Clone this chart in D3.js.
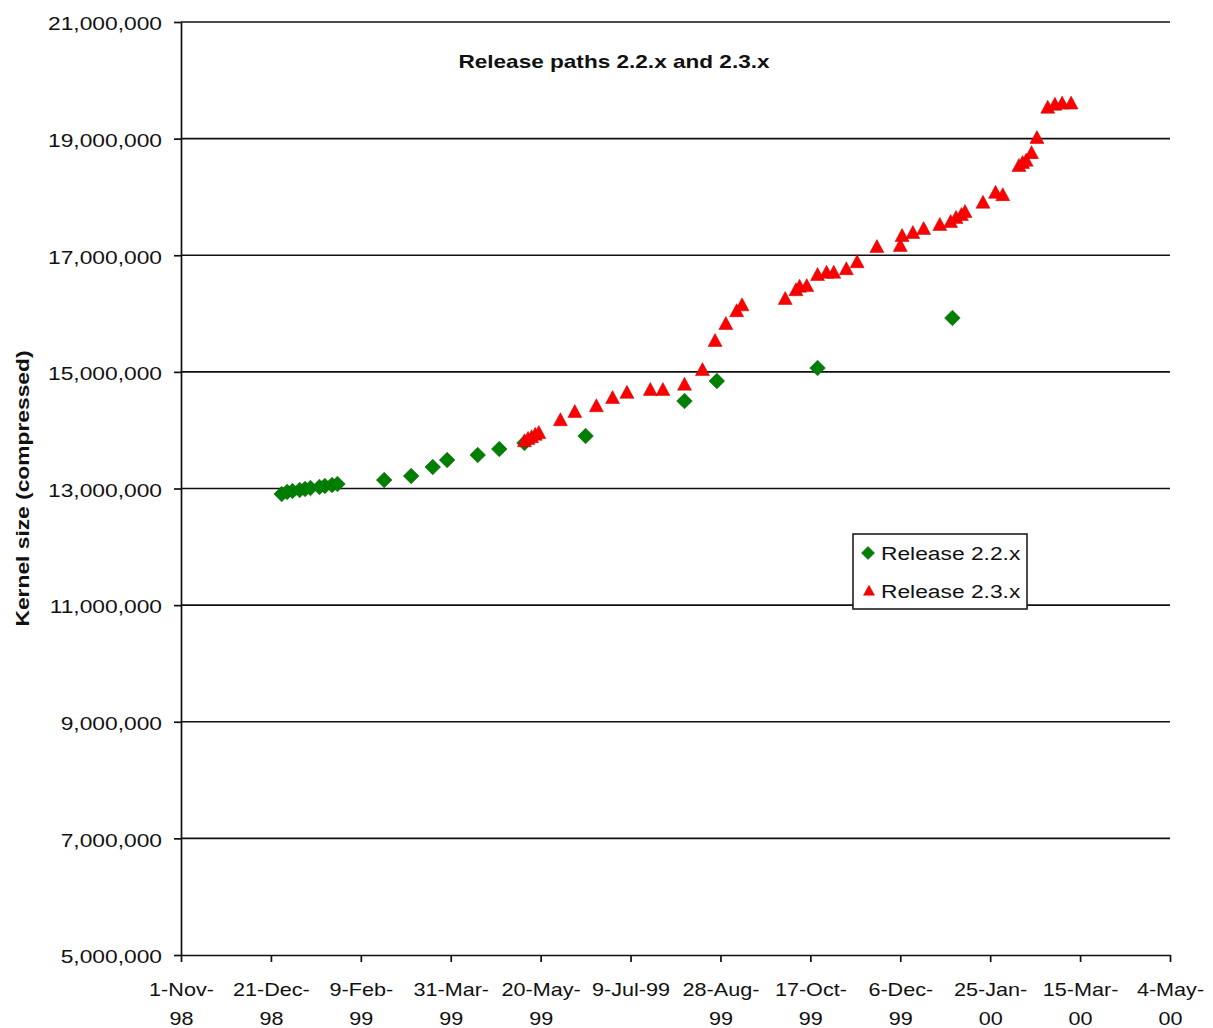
<!DOCTYPE html>
<html>
<head>
<meta charset="utf-8">
<script src="https://cdn.jsdelivr.net/npm/d3@7"></script>
<style>
  html, body { margin: 0; padding: 0; background: #fff; }
  svg { display: block; }
  text { font-family: "Liberation Sans", Arial, sans-serif; fill: #111; }
</style>
</head>
<body>
<svg id="chart" width="1213" height="1028"></svg>
<script>
// Kernel size (compressed) over time for the 2.2.x and 2.3.x release paths
const tickDates = ["1998-11-01", "1998-12-21", "1999-02-09", "1999-03-31", "1999-05-20", "1999-07-09",
                   "1999-08-28", "1999-10-17", "1999-12-06", "2000-01-25", "2000-03-15", "2000-05-04"];
const tickLabels = [["1-Nov-", "98"], ["21-Dec-", "98"], ["9-Feb-", "99"], ["31-Mar-", "99"], ["20-May-", "99"],
                    ["9-Jul-99"], ["28-Aug-", "99"], ["17-Oct-", "99"], ["6-Dec-", "99"], ["25-Jan-", "00"],
                    ["15-Mar-", "00"], ["4-May-", "00"]];
const yTicks = [5000000, 7000000, 9000000, 11000000, 13000000, 15000000, 17000000, 19000000, 21000000];

const dates22 = ["1998-12-27", "1998-12-30", "1999-01-02", "1999-01-06", "1999-01-09", "1999-01-12",
                 "1999-01-17", "1999-01-20", "1999-01-24", "1999-01-27", "1999-02-22", "1999-03-09",
                 "1999-03-21", "1999-03-29", "1999-04-15", "1999-04-27", "1999-05-11", "1999-06-14",
                 "1999-08-08", "1999-08-26", "1999-10-21", "2000-01-04"];
const sizes22 = [12905000, 12940000, 12957000, 12974000, 12991000, 13008000,
                 13026000, 13043000, 13060000, 13077000, 13145000, 13214000,
                 13368000, 13488000, 13574000, 13677000, 13780000, 13900000,
                 14500000, 14843000, 15066000, 15924000];

const dates23 = ["1999-05-11", "1999-05-13", "1999-05-15", "1999-05-17", "1999-05-19", "1999-05-31",
                 "1999-06-08", "1999-06-20", "1999-06-29", "1999-07-07", "1999-07-20", "1999-07-27",
                 "1999-08-08", "1999-08-18", "1999-08-25", "1999-08-31", "1999-09-06", "1999-09-09",
                 "1999-10-03", "1999-10-09", "1999-10-11", "1999-10-15", "1999-10-21", "1999-10-26",
                 "1999-10-30", "1999-11-06", "1999-11-12", "1999-11-23", "1999-12-06", "1999-12-07",
                 "1999-12-13", "1999-12-19", "1999-12-28", "2000-01-03", "2000-01-06", "2000-01-09",
                 "2000-01-11", "2000-01-21", "2000-01-28", "2000-02-01", "2000-02-10", "2000-02-12",
                 "2000-02-14", "2000-02-17", "2000-02-20", "2000-02-26", "2000-03-01", "2000-03-05",
                 "2000-03-10"];
const sizes23 = [13810000, 13850000, 13880000, 13920000, 13950000, 14170000,
                 14310000, 14410000, 14550000, 14640000, 14690000, 14690000,
                 14780000, 15030000, 15530000, 15820000, 16040000, 16140000,
                 16250000, 16400000, 16460000, 16470000, 16660000, 16700000,
                 16700000, 16760000, 16880000, 17140000, 17160000, 17330000,
                 17380000, 17450000, 17520000, 17570000, 17640000, 17690000,
                 17740000, 17900000, 18070000, 18030000, 18530000, 18580000,
                 18620000, 18750000, 19010000, 19530000, 19580000, 19600000,
                 19600000];

const seriesNames = ["Release 2.2.x", "Release 2.3.x"];

const parse = d3.timeParse("%Y-%m-%d");
const svg = d3.select("#chart");

const plot = { left: 181, right: 1170, top: 22, bottom: 955 };
const STRETCH = 1.2;   // the chart lettering is drawn wide

const x = d3.scaleTime()
  .domain([parse(tickDates[0]), parse(tickDates[tickDates.length - 1])])
  .range([plot.left, plot.right]);
const y = d3.scaleLinear()
  .domain([5000000, 21000000])
  .range([plot.bottom, plot.top]);

const fmt = d3.format(",");

// horizontal gridlines
svg.append("g")
  .selectAll("line")
  .data(yTicks.filter(v => v > 5000000))
  .join("line")
  .attr("x1", plot.left).attr("x2", plot.right)
  .attr("y1", d => y(d)).attr("y2", d => y(d))
  .attr("stroke", "#111").attr("stroke-width", 1.7);

// y axis
const yAxis = svg.append("g")
  .attr("transform", `translate(${plot.left},0)`)
  .call(d3.axisLeft(y).tickValues(yTicks).tickSize(7).tickSizeOuter(0).tickFormat(fmt));
yAxis.select(".domain").attr("stroke", "#111").attr("stroke-width", 1.7);
yAxis.selectAll(".tick line").attr("stroke", "#111").attr("stroke-width", 1.7);
yAxis.selectAll(".tick text")
  .attr("x", null).attr("dy", null)
  .attr("text-anchor", "end")
  .attr("dominant-baseline", "central")
  .attr("font-size", 19)
  .attr("font-family", "Liberation Sans, Arial, sans-serif")
  .attr("fill", "#111")
  .attr("transform", `translate(-19,1) scale(${STRETCH},1)`);

// x axis
const xAxis = svg.append("g")
  .attr("transform", `translate(0,${plot.bottom})`)
  .call(d3.axisBottom(x).tickValues(tickDates.map(parse)).tickSize(7).tickSizeOuter(0).tickFormat(""));
xAxis.select(".domain").attr("stroke", "#111").attr("stroke-width", 1.7);
xAxis.selectAll(".tick line").attr("stroke", "#111").attr("stroke-width", 1.7);
xAxis.selectAll(".tick text").remove();
xAxis.selectAll(".tick").each(function (d, i) {
  const t = d3.select(this).append("text")
    .attr("text-anchor", "middle")
    .attr("font-size", 18)
    .attr("fill", "#111")
    .attr("transform", `translate(0,41) scale(${STRETCH},1)`);
  tickLabels[i].forEach((line, k) => {
    t.append("tspan").attr("x", 0).attr("dy", k === 0 ? 0 : 29).text(line);
  });
});

// marker shapes
function diamondPath(r) { return `M0,${-r}L${r},0L0,${r}L${-r},0Z`; }
function trianglePath(w, h) { return `M0,${-h * 0.58}L${w / 2},${h * 0.42}L${-w / 2},${h * 0.42}Z`; }

const green = "#008000", red = "#ff0000";

const pts22 = dates22.map((d, i) => ({ date: parse(d), size: sizes22[i] }));
const pts23 = dates23.map((d, i) => ({ date: parse(d), size: sizes23[i] }));

svg.append("g")
  .selectAll("path")
  .data(pts22)
  .join("path")
  .attr("d", diamondPath(7.8))
  .attr("transform", d => `translate(${x(d.date)},${y(d.size)})`)
  .attr("fill", green).attr("stroke", "#0b5e0b").attr("stroke-width", 0.6);

svg.append("g")
  .selectAll("path")
  .data(pts23)
  .join("path")
  .attr("d", trianglePath(14, 13))
  .attr("transform", d => `translate(${x(d.date)},${y(d.size)})`)
  .attr("fill", red).attr("stroke", "#c00000").attr("stroke-width", 0.5);

// title
svg.append("text")
  .attr("text-anchor", "middle")
  .attr("font-weight", "bold")
  .attr("font-size", 19)
  .attr("transform", `translate(614,68) scale(${STRETCH * 0.99},1)`)
  .text("Release paths 2.2.x and 2.3.x");

// y axis title
svg.append("text")
  .attr("text-anchor", "middle")
  .attr("font-weight", "bold")
  .attr("font-size", 19)
  .attr("transform", `translate(29,${(plot.top + plot.bottom) / 2}) rotate(-90) scale(${STRETCH},1)`)
  .text("Kernel size (compressed)");

// legend
const legend = svg.append("g").attr("transform", "translate(853,534)");
legend.append("rect")
  .attr("width", 174).attr("height", 75)
  .attr("fill", "#fff").attr("stroke", "#111").attr("stroke-width", 1.5);
legend.append("path").attr("d", diamondPath(6.5))
  .attr("transform", "translate(15,19)").attr("fill", green).attr("stroke", "#0b5e0b").attr("stroke-width", 0.6);
legend.append("path").attr("d", trianglePath(11, 10))
  .attr("transform", "translate(16,57)").attr("fill", red).attr("stroke", "#c00000").attr("stroke-width", 0.5);
legend.selectAll("text.lbl")
  .data(seriesNames)
  .join("text")
  .attr("class", "lbl")
  .attr("font-size", 19)
  .attr("transform", (d, i) => `translate(28,${26 + i * 38}) scale(${STRETCH},1)`)
  .text(d => d);
</script>
</body>
</html>
